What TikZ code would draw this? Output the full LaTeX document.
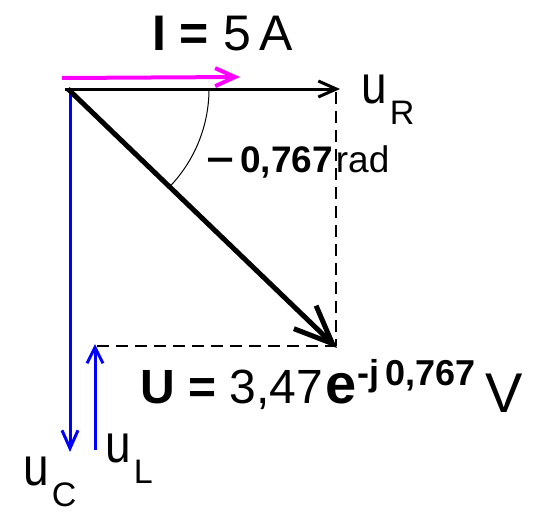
\documentclass[tikz,border=0pt]{standalone}
\usepackage{fontspec}
\setmainfont{Liberation Sans}
\usetikzlibrary{arrows.meta}
\definecolor{pinkvec}{RGB}{255,0,255}
\definecolor{bluevec}{RGB}{0,0,255}
\newcommand{\fs}[1]{\fontsize{#1}{#1}\selectfont}
\newcommand{\lowsub}[1]{\kern3pt\raisebox{-21pt}{\fs{34}#1}}
\newcommand{\tallu}{\scalebox{0.92}[1.08]{u}}
\begin{document}
\begin{tikzpicture}[x=1pt,y=-1pt,
  vecline/.style={line width=3pt,-{Straight Barb[length=18pt,width=16pt]}},
  dashline/.style={dash pattern=on 12pt off 7pt,line width=1.2pt},
  lbl/.style={inner sep=0pt,anchor=base west,font=\fs{50}}]
\useasboundingbox (0,0) rectangle (535,514);
% points
\coordinate (O) at (68,89);
\coordinate (O2) at (65,89);
\coordinate (R) at (340,89);
\coordinate (Rd) at (336,92);
\coordinate (U) at (337,348);
\coordinate (C0) at (70,89);
\coordinate (C) at (70,452);
\coordinate (L0) at (95,450);
\coordinate (L1) at (95,344);
\coordinate (Ld) at (97,346);
\coordinate (Ud) at (336,346);
\coordinate (P0) at (62,78);
\coordinate (P1) at (240,77);
\coordinate (A0) at (209,89);
% vectors
\draw[vecline,bluevec] (C0) -- (C);
\draw[vecline,bluevec,-{Straight Barb[length=16pt,width=16pt]}] (L0) -- (L1);
\draw[vecline,black] (O2) -- (R);
\draw[line width=4pt,pinkvec,-{Straight Barb[length=20pt,width=18pt]}] (P0) -- (P1);
\draw[line width=5pt,black,-{Straight Barb[length=38pt,width=32pt]}] (O) -- (U);
% dashed projections
\draw[dashline] (Rd) -- (Ud);
\draw[dashline] (Ld) -- (Ud);
% angle arc
\draw[line width=1pt] (A0) arc[start angle=0,end angle=44,radius=141];
% labels
\node[lbl] (tI) at (152,50) {\textbf{I =} 5\,A};
\node[lbl] (tR) at (361,103) {\tallu\lowsub{R}};
\node[lbl] (tC) at (23,485) {\tallu\lowsub{C}};
\node[lbl] (tL) at (105,462) {\tallu\lowsub{L}};
\node[lbl,font=\fs{37}] (tphi) at (206,172) {\scalebox{1.3}[1]{\textbf{−}}\kern6pt\textbf{0,767}\kern3pt rad};
\node[lbl,font=\fs{48}] (tU) at (140,403) {\textbf{U =} 3,47\kern3pt{\fs{56}\bfseries e}\raisebox{18pt}{\fs{36}\bfseries -j\kern6pt0,767}\kern10pt\raisebox{-9pt}{\fs{56}V}};
\end{tikzpicture}
\end{document}
